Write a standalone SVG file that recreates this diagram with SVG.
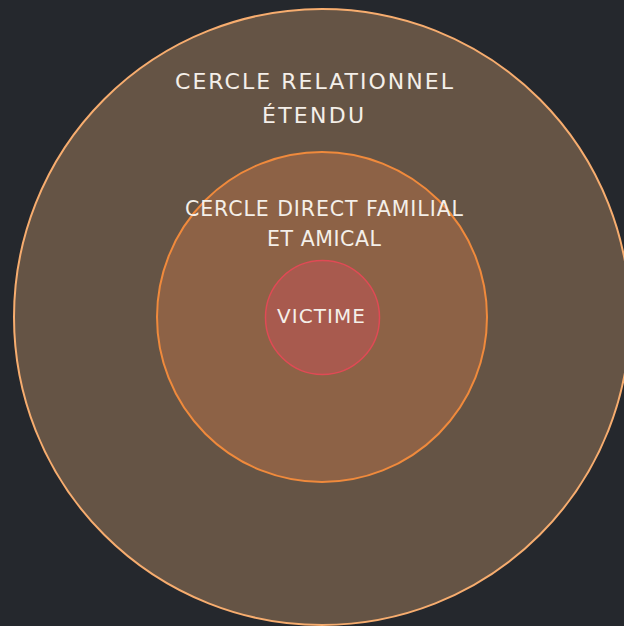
<svg xmlns="http://www.w3.org/2000/svg" width="624" height="626" viewBox="0 0 624 626">
<style>
.lbl{font-family:"DejaVu Sans","Noto Sans",sans-serif;fill:#f4efe9;text-anchor:middle;}
</style>
<rect x="0" y="0" width="624" height="626" fill="#25282d"/>
<g id="outer">
<circle cx="322" cy="317" r="308" fill="#655445" stroke="#f7ad6f" stroke-width="2"/>
<text class="lbl" x="314" y="89" font-size="22" textLength="278" lengthAdjust="spacing">CERCLE RELATIONNEL</text>
<text class="lbl" x="313" y="122.5" font-size="22" textLength="102" lengthAdjust="spacing">ÉTENDU</text>
</g>
<g id="middle">
<circle cx="322" cy="317" r="165" fill="#8d6246" stroke="#f08a3c" stroke-width="2"/>
<text class="lbl" x="324" y="215.5" font-size="20.5" textLength="278" lengthAdjust="spacing">CERCLE DIRECT FAMILIAL</text>
<text class="lbl" x="324" y="245.5" font-size="20.5" textLength="114" lengthAdjust="spacing">ET AMICAL</text>
</g>
<g id="victime">
<circle cx="322.5" cy="317.5" r="57" fill="#a85a4e" stroke="#e04a55" stroke-width="1.5"/>
<text class="lbl" x="321" y="322.5" font-size="20" textLength="88" lengthAdjust="spacing">VICTIME</text>
</g>
<g id="connectors"/>
</svg>
